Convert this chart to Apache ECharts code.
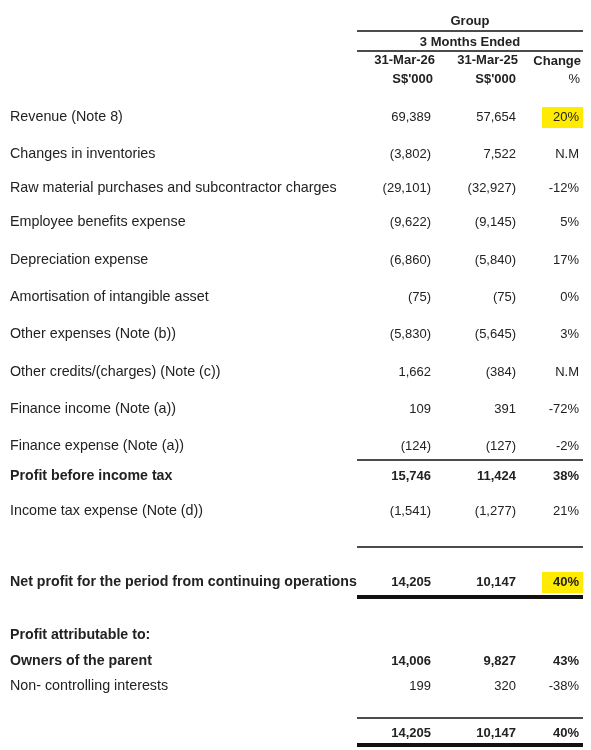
<!DOCTYPE html><html><head><meta charset="utf-8"><script src="https://cdn.jsdelivr.net/npm/echarts@6/dist/echarts.min.js"></script>
<style>html,body{margin:0;background:#fff}#c{width:591px;height:750px}</style></head><body><div id="c"></div><script>
const labels=["Revenue (Note 8)","Changes in inventories","Raw material purchases and subcontractor charges","Employee benefits expense","Depreciation expense","Amortisation of intangible asset","Other expenses (Note (b))","Other credits/(charges) (Note (c))","Finance income (Note (a))","Finance expense (Note (a))","Profit before income tax","Income tax expense (Note (d))","Net profit for the period from continuing operations","Profit attributable to:","Owners of the parent","Non- controlling interests",""];
const col2026=["69,389","(3,802)","(29,101)","(9,622)","(6,860)","(75)","(5,830)","1,662","109","(124)","15,746","(1,541)","14,205","","14,006","199","14,205"];
const col2025=["57,654","7,522","(32,927)","(9,145)","(5,840)","(75)","(5,645)","(384)","391","(127)","11,424","(1,277)","10,147","","9,827","320","10,147"];
const change=["20%","N.M","-12%","5%","17%","0%","3%","N.M","-72%","-2%","38%","21%","40%","","43%","-38%","40%"];
const boldRows=[10,12,13,14,16];
const highlightRows=[0,12];
const headers=["Group","3 Months Ended","31-Mar-26","31-Mar-25","Change","S$'000","S$'000","%"];
const rowY=[117,154,188,222,260,297,334,372,409,446,476,511,582,635,661,686,733];
const F='"Liberation Sans",Arial,sans-serif';
const g=[];
function t(x,y,s,align,bold,size){g.push({type:'text',x:x,y:y,style:{text:s,fill:'#222',font:(bold?'bold ':'')+(size||13)+'px '+F,align:align,verticalAlign:'middle'}});}
function line(x1,x2,y,w){g.push({type:'line',shape:{x1:x1,y1:y,x2:x2,y2:y},style:{stroke:'#111',lineWidth:w}});}
highlightRows.forEach(i=>g.push({type:'rect',shape:{x:542,y:rowY[i]-10,width:41,height:21},style:{fill:'#ffeb00'}}));
t(470,21,headers[0],'center',true);t(470,42,headers[1],'center',true);
t(435,60,headers[2],'right',true);t(518,60,headers[3],'right',true);t(581,61,headers[4],'right',true);
t(433,79,headers[5],'right',true);t(516,79,headers[6],'right',true);t(580,79,headers[7],'right',false);
labels.forEach((l,i)=>{const b=boldRows.includes(i);const y=rowY[i];
 t(10,y,l,'left',b,b?14.2:14.3);t(431,y,col2026[i],'right',b);t(516,y,col2025[i],'right',b);t(579,y,change[i],'right',b);});
line(357,583,31,1.5);line(357,583,51,1.5);line(357,583,460,1.5);line(357,583,547,1.5);line(357,583,597,4);line(357,583,718,1.5);line(357,583,745,4);
const chart=echarts.init(document.getElementById('c'));
chart.setOption({animation:false,graphic:g});
</script></body></html>
